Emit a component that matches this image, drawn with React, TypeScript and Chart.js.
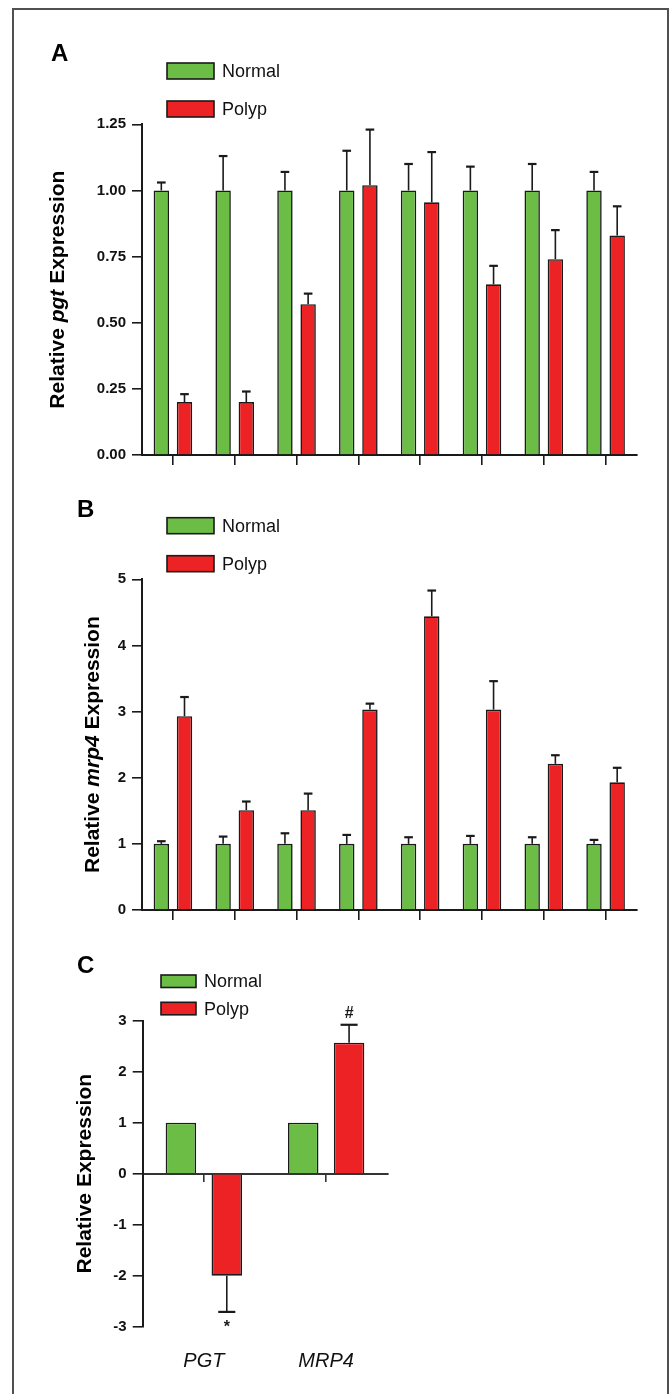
import React, { useEffect, useRef } from 'react';
import { Chart, registerables } from 'chart.js';

Chart.register(...registerables);

const FONT = '"Liberation Sans", Arial, Helvetica, sans-serif';
const GREEN = '#6cbd45';
const RED = '#ed2224';
const INK = '#1a1a1a';

// ---------- data ----------
const seriesNames = ['Normal', 'Polyp'];
const samples = ['1', '2', '3', '4', '5', '6', '7', '8'];

const pgtNormal = [1, 1, 1, 1, 1, 1, 1, 1];
const pgtNormalErr = [0.03, 0.13, 0.07, 0.15, 0.10, 0.09, 0.10, 0.07];
const pgtPolyp = [0.20, 0.20, 0.57, 1.02, 0.955, 0.645, 0.74, 0.83];
const pgtPolypErr = [0.03, 0.04, 0.04, 0.21, 0.19, 0.07, 0.11, 0.11];
const pgtTicks = [0, 0.25, 0.5, 0.75, 1.0, 1.25];

const mrp4Normal = [1, 1, 1, 1, 1, 1, 1, 1];
const mrp4NormalErr = [0.04, 0.11, 0.16, 0.135, 0.10, 0.12, 0.10, 0.06];
const mrp4Polyp = [2.93, 1.51, 1.51, 3.03, 4.44, 3.03, 2.21, 1.93];
const mrp4PolypErr = [0.29, 0.13, 0.25, 0.09, 0.39, 0.43, 0.13, 0.22];
const mrp4Ticks = [0, 1, 2, 3, 4, 5];

const genes = ['PGT', 'MRP4'];
const summaryNormal = [1, 1];
const summaryNormalErr = [0, 0];
const summaryPolyp = [-2.0, 2.57];
const summaryPolypErr = [0.71, 0.35];
const summaryMarks = ['*', '#'];
const summaryTicks = [-3, -2, -1, 0, 1, 2, 3];

const titleA: [string, boolean][] = [['Relative ', false], ['pgt', true], [' Expression', false]];
const titleB: [string, boolean][] = [['Relative ', false], ['mrp4', true], [' Expression', false]];
const titleC: [string, boolean][] = [['Relative Expression', false]];

// ---------- plugin: error bars, marks, legend, letter, y title ----------
const panelDecor = {
  id: 'panelDecor',
  afterDatasetsDraw(chart: any, _args: any, opts: any) {
    const ctx = chart.ctx;
    const yScale = chart.scales.y;
    ctx.save();
    chart.data.datasets.forEach((ds: any, i: number) => {
      const meta = chart.getDatasetMeta(i);
      const errs: number[] = ds.errors || [];
      const marks: string[] = ds.marks || [];
      meta.data.forEach((el: any, j: number) => {
        const v = ds.data[j] as number;
        const e = errs[j] || 0;
        const sign = v >= 0 ? 1 : -1;
        const yEnd = yScale.getPixelForValue(v + sign * e);
        const x = el.x;
        if (e > 0) {
          ctx.strokeStyle = INK;
          ctx.lineWidth = 1.6;
          ctx.beginPath();
          ctx.moveTo(x, el.y);
          ctx.lineTo(x, yEnd);
          ctx.stroke();
          ctx.lineWidth = 2.2;
          const cw = el.width * 0.56;
          ctx.beginPath();
          ctx.moveTo(x - cw / 2, yEnd);
          ctx.lineTo(x + cw / 2, yEnd);
          ctx.stroke();
        }
        if (marks[j]) {
          ctx.fillStyle = INK;
          ctx.font = `bold 16px ${FONT}`;
          ctx.textAlign = 'center';
          ctx.textBaseline = 'alphabetic';
          const by = sign > 0 ? yEnd - 6.5 : yEnd + 20;
          ctx.fillText(marks[j], x, by);
        }
      });
    });
    ctx.restore();
  },
  afterDraw(chart: any, _args: any, opts: any) {
    const ctx = chart.ctx;
    ctx.save();
    // panel letter
    ctx.fillStyle = '#000';
    ctx.font = `bold 24px ${FONT}`;
    ctx.textAlign = 'left';
    ctx.textBaseline = 'alphabetic';
    ctx.fillText(opts.letter, opts.letterX, opts.letterY);
    // legend
    chart.data.datasets.forEach((ds: any, i: number) => {
      const top = opts.legendTop + i * opts.legendGap;
      ctx.fillStyle = ds.backgroundColor;
      ctx.fillRect(opts.boxX, top, opts.boxW, opts.boxH);
      ctx.strokeStyle = INK;
      ctx.lineWidth = 1.6;
      ctx.strokeRect(opts.boxX, top, opts.boxW, opts.boxH);
      ctx.fillStyle = '#111';
      ctx.font = `18px ${FONT}`;
      ctx.textAlign = 'left';
      ctx.textBaseline = 'middle';
      ctx.fillText(ds.label, opts.textX, top + opts.boxH / 2 + 1);
    });
    // y axis title (mixed italic)
    const ca = chart.chartArea;
    const cy = (ca.top + ca.bottom) / 2;
    const segs: [string, boolean][] = opts.title;
    const fontFor = (it: boolean) => `${it ? 'italic ' : ''}bold 21px ${FONT}`;
    let total = 0;
    segs.forEach(([t, it]) => {
      ctx.font = fontFor(it);
      total += ctx.measureText(t).width;
    });
    ctx.translate(opts.titleX, cy);
    ctx.rotate(-Math.PI / 2);
    ctx.fillStyle = '#000';
    ctx.textBaseline = 'middle';
    ctx.textAlign = 'left';
    let xx = -total / 2;
    segs.forEach(([t, it]) => {
      ctx.font = fontFor(it);
      ctx.fillText(t, xx, 0);
      xx += ctx.measureText(t).width;
    });
    ctx.restore();
  },
};

const tickFont = { family: FONT, size: 15, weight: 'bold' as const };

function yScaleCfg(min: number, max: number, step: number, ticks: number[], fmt: (v: number) => string, width: number) {
  return {
    min,
    max,
    afterBuildTicks: (s: any) => {
      s.ticks = ticks.map((v) => ({ value: v }));
    },
    ticks: {
      stepSize: step,
      font: tickFont,
      color: '#111',
      padding: 6,
      callback: (v: any) => fmt(Number(v)),
    },
    grid: { drawOnChartArea: false, drawTicks: true, tickLength: 10, color: INK, lineWidth: 1.6 },
    border: { display: true, color: INK, width: 2 },
    afterFit: (s: any) => {
      s.width = width;
    },
  };
}

function makeDatasets(n: number[], nErr: number[], p: number[], pErr: number[], pMarks?: string[]) {
  return [
    {
      label: seriesNames[0],
      data: n,
      errors: nErr,
      backgroundColor: GREEN,
      borderColor: INK,
      borderWidth: 1.6,
      xAxisID: 'x',
      categoryPercentage: 0.75,
      barPercentage: 0.665,
    },
    {
      label: seriesNames[1],
      data: p,
      errors: pErr,
      marks: pMarks,
      backgroundColor: RED,
      borderColor: INK,
      borderWidth: 1.6,
      xAxisID: 'x',
      categoryPercentage: 0.75,
      barPercentage: 0.665,
    },
  ];
}

function configA(): any {
  return {
    type: 'bar',
    data: { labels: samples, datasets: makeDatasets(pgtNormal, pgtNormalErr, pgtPolyp, pgtPolypErr) },
    plugins: [panelDecor],
    options: {
      responsive: false,
      animation: false,
      events: [],
      layout: { padding: { top: 124.3, right: 34.5, left: 0, bottom: 0 } },
      plugins: {
        legend: { display: false },
        tooltip: { enabled: false },
        panelDecor: {
          letter: 'A', letterX: 51, letterY: 61,
          legendTop: 63, legendGap: 38, boxX: 167, boxW: 47, boxH: 16, textX: 222,
          title: titleA, titleX: 58.3,
        },
      },
      scales: {
        x: {
          type: 'category',
          offset: true,
          grid: { offset: false, drawOnChartArea: false, drawTicks: true, tickLength: 10, color: INK, lineWidth: 1.6 },
          border: { display: true, color: INK, width: 2 },
          ticks: { display: false },
          afterFit: (s: any) => { s.height = 15; },
        },
        y: yScaleCfg(0, 1.25, 0.25, pgtTicks, (v) => v.toFixed(2), 142),
      },
    },
  };
}

function configB(): any {
  return {
    type: 'bar',
    data: { labels: samples, datasets: makeDatasets(mrp4Normal, mrp4NormalErr, mrp4Polyp, mrp4PolypErr) },
    plugins: [panelDecor],
    options: {
      responsive: false,
      animation: false,
      events: [],
      layout: { padding: { top: 109.3, right: 34.5, left: 0, bottom: 0 } },
      plugins: {
        legend: { display: false },
        tooltip: { enabled: false },
        panelDecor: {
          letter: 'B', letterX: 77, letterY: 47,
          legendTop: 47.7, legendGap: 38, boxX: 167, boxW: 47, boxH: 16, textX: 222,
          title: titleB, titleX: 93.3,
        },
      },
      scales: {
        x: {
          type: 'category',
          offset: true,
          grid: { offset: false, drawOnChartArea: false, drawTicks: true, tickLength: 10, color: INK, lineWidth: 1.6 },
          border: { display: true, color: INK, width: 2 },
          ticks: { display: false },
          afterFit: (s: any) => { s.height = 20; },
        },
        y: yScaleCfg(0, 5, 1, mrp4Ticks, (v) => String(v), 142),
      },
    },
  };
}

function configC(): any {
  return {
    type: 'bar',
    data: {
      labels: genes,
      datasets: makeDatasets(summaryNormal, summaryNormalErr, summaryPolyp, summaryPolypErr, summaryMarks),
    },
    plugins: [panelDecor],
    options: {
      responsive: false,
      animation: false,
      events: [],
      layout: { padding: { top: 90.7, right: 283.7, left: 0, bottom: 0 } },
      plugins: {
        legend: { display: false },
        tooltip: { enabled: false },
        panelDecor: {
          letter: 'C', letterX: 77, letterY: 43,
          legendTop: 45, legendGap: 27.3, boxX: 161, boxW: 35, boxH: 12.5, textX: 204,
          title: titleC, titleX: 85.3,
        },
      },
      scales: {
        x: {
          type: 'category',
          position: { y: 0 },
          offset: true,
          grid: { offset: false, drawOnChartArea: false, drawTicks: true, tickLength: 7, color: '#333', lineWidth: 1.6 },
          border: { display: true, color: '#333', width: 2 },
          ticks: { display: false },
        },
        x2: {
          type: 'category',
          position: 'bottom',
          offset: true,
          grid: { display: false },
          border: { display: false },
          ticks: { font: { family: FONT, size: 20, style: 'italic' }, color: '#111', padding: 15 },
          afterFit: (s: any) => { s.height = 67.3; },
        },
        y: yScaleCfg(-3, 3, 1, summaryTicks, (v) => String(v), 142.7),
      },
    },
  };
}

function ChartCanvas({ make, top, height }: { make: () => any; top: number; height: number }) {
  const ref = useRef<HTMLCanvasElement | null>(null);
  useEffect(() => {
    if (!ref.current) return;
    const chart = new Chart(ref.current, make());
    return () => chart.destroy();
  }, [make]);
  return (
    <canvas
      ref={ref}
      width={671}
      height={height}
      style={{ position: 'absolute', left: 0, top, width: 671, height }}
    />
  );
}

export default function App() {
  return (
    <div
      style={{
        position: 'fixed',
        left: 0,
        top: 0,
        width: 671,
        height: 1394,
        overflow: 'hidden',
        background: '#fff',
      }}
    >
      <div
        style={{
          position: 'absolute',
          left: 12,
          top: 8,
          width: 657,
          height: 1400,
          boxSizing: 'border-box',
          border: '2px solid #505050',
        }}
      />
      <ChartCanvas make={configA} top={0} height={470} />
      <ChartCanvas make={configB} top={470} height={460} />
      <ChartCanvas make={configC} top={930} height={464} />
    </div>
  );
}
